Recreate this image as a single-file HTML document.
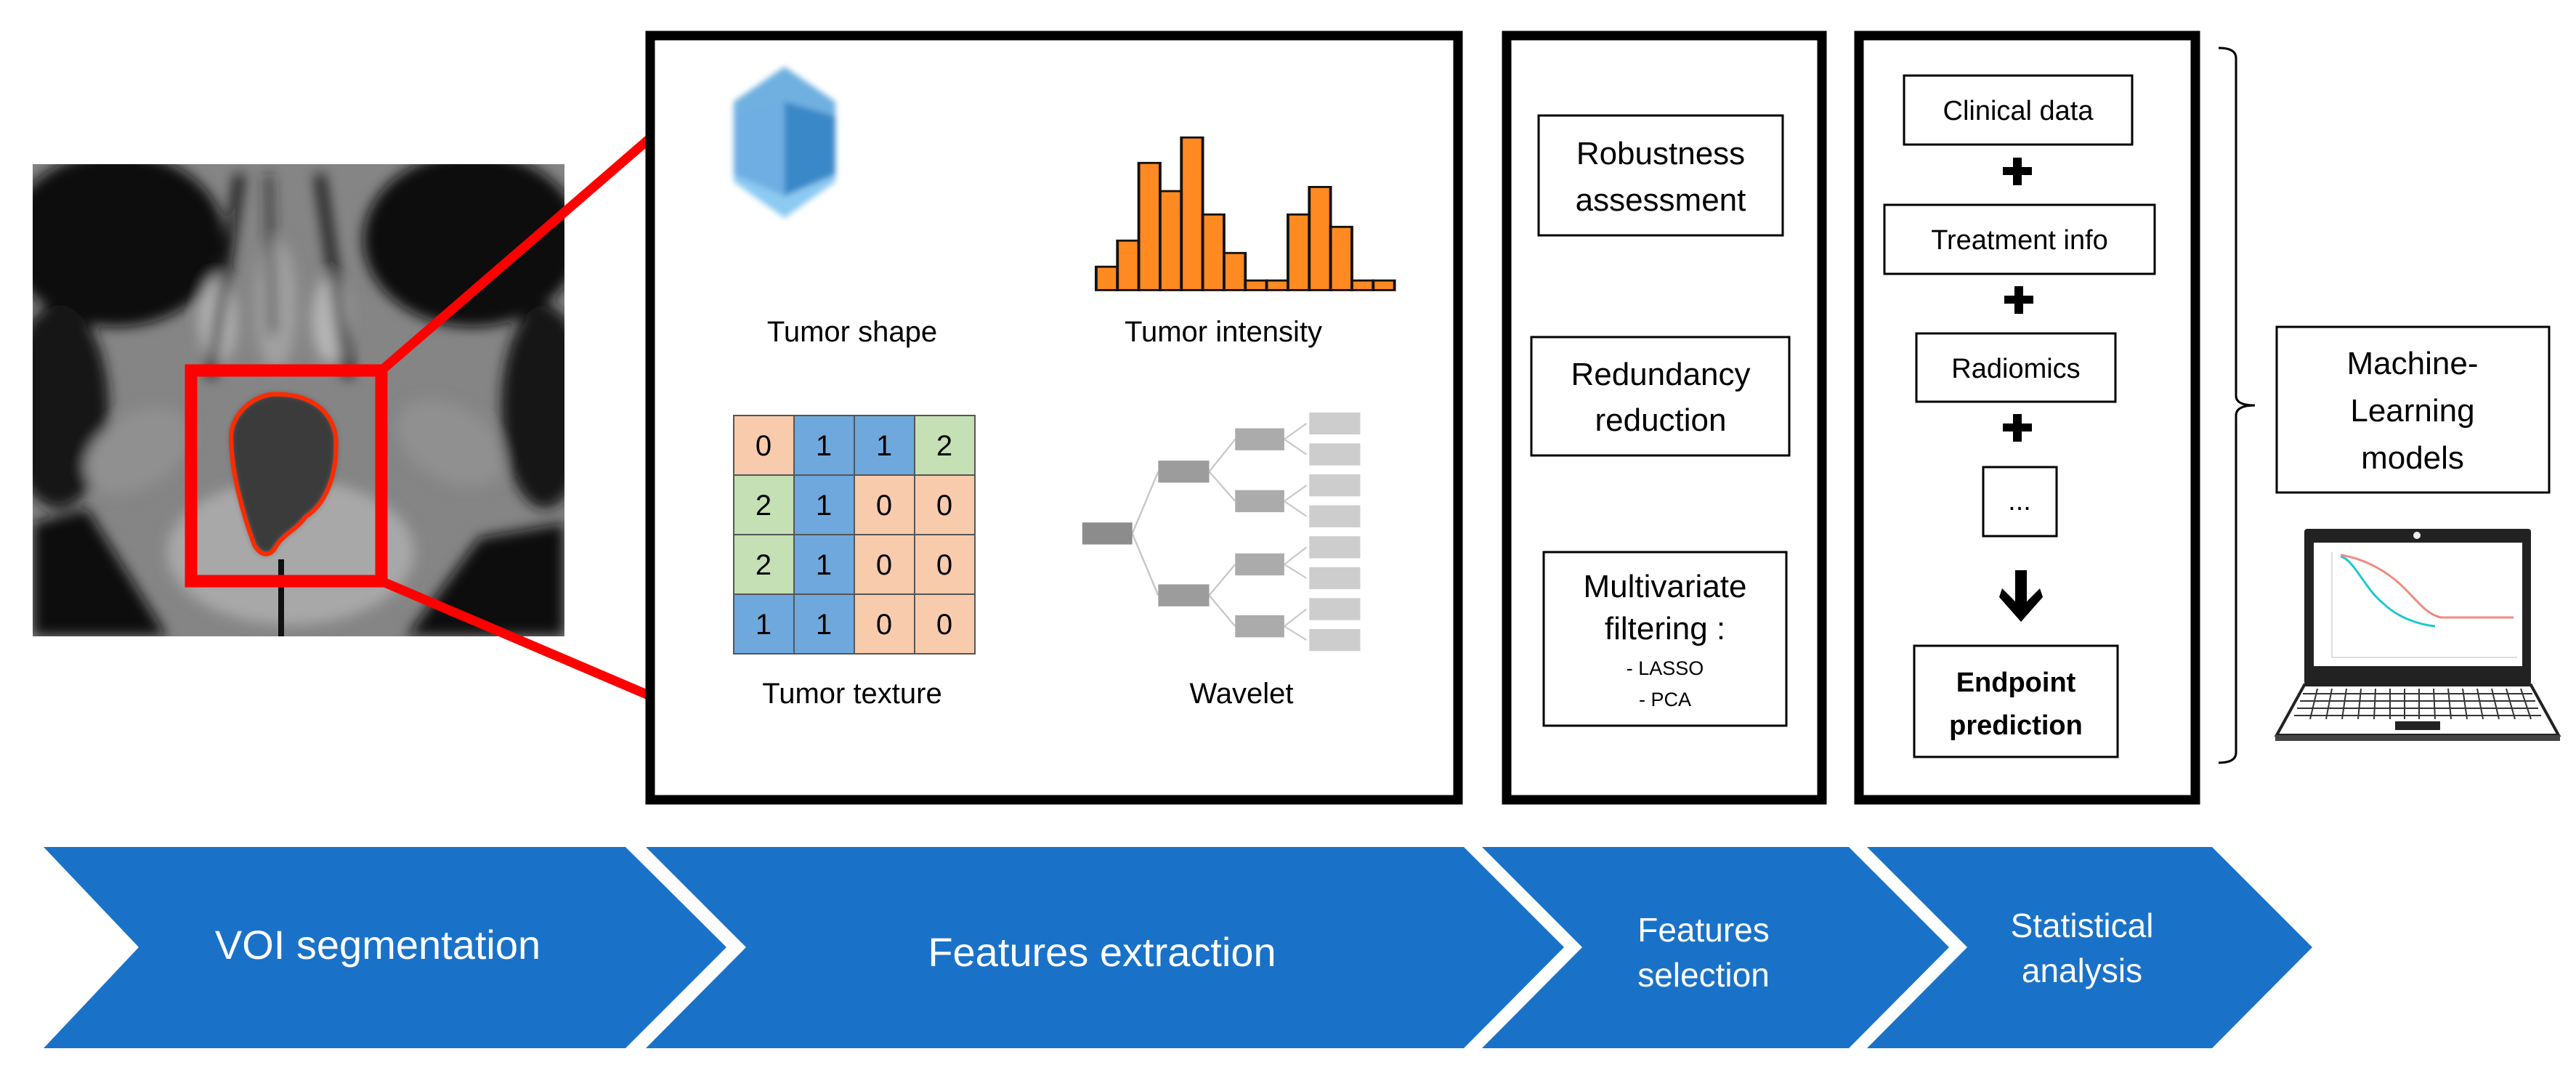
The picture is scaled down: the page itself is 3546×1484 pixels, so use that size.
<!DOCTYPE html>
<html><head><meta charset="utf-8"><style>
html,body{margin:0;padding:0;background:#fff;}
svg{display:block;}
text{font-family:"Liberation Sans",sans-serif;}
</style></head><body>
<svg width="3546" height="1484" viewBox="0 0 3546 1484" xmlns="http://www.w3.org/2000/svg">
<defs>
<filter id="bl" x="-20%" y="-20%" width="140%" height="140%"><feGaussianBlur stdDeviation="9"/></filter>
<filter id="bl2"><feGaussianBlur stdDeviation="4"/></filter>
<clipPath id="mri"><rect x="45" y="226" width="732" height="650"/></clipPath>
</defs>

<!-- MRI -->
<g clip-path="url(#mri)">
<rect x="45" y="226" width="732" height="650" fill="#858585"/>
<g filter="url(#bl)">
<ellipse cx="160" cy="330" rx="150" ry="120" fill="#0c0c0c"/>
<ellipse cx="650" cy="330" rx="150" ry="120" fill="#0c0c0c"/>
<ellipse cx="80" cy="560" rx="70" ry="140" fill="#151515"/>
<ellipse cx="750" cy="560" rx="60" ry="140" fill="#151515"/>
<polygon points="45,720 120,700 230,876 45,876" fill="#101010"/>
<polygon points="777,720 660,740 560,876 777,876" fill="#101010"/>
<ellipse cx="190" cy="620" rx="80" ry="50" fill="#909090" transform="rotate(-30 190 620)"/>
<ellipse cx="620" cy="610" rx="80" ry="50" fill="#909090" transform="rotate(30 620 610)"/>
<ellipse cx="300" cy="440" rx="25" ry="60" fill="#b5b5b5"/>
<ellipse cx="455" cy="440" rx="25" ry="60" fill="#b5b5b5"/>
<ellipse cx="380" cy="420" rx="28" ry="90" fill="#a0a0a0"/>
<ellipse cx="400" cy="760" rx="170" ry="100" fill="#a8a8a8"/>
<line x1="330" y1="240" x2="290" y2="520" stroke="#111" stroke-width="12"/>
<line x1="440" y1="240" x2="480" y2="520" stroke="#111" stroke-width="12"/>
<line x1="370" y1="240" x2="375" y2="460" stroke="#222" stroke-width="8"/>
</g>
<path d="M372,543 C345,548 320,570 318,600 C318,650 335,710 350,750 C358,765 372,768 380,752 C390,735 410,728 420,712 C455,690 465,640 462,600 C455,560 420,540 372,543 Z" fill="#3a3a3a" filter="url(#bl2)"/>
<rect x="383" y="770" width="8" height="106" fill="#111"/>
</g>
<path d="M372,543 C345,548 320,570 318,600 C318,650 335,710 350,750 C358,765 372,768 380,752 C390,735 410,728 420,712 C455,690 465,640 462,600 C455,560 420,540 372,543 Z" fill="none" stroke="#ff2a00" stroke-width="6"/>
<rect x="263" y="510" width="262" height="290" fill="none" stroke="#ff0000" stroke-width="17"/>
<line x1="525" y1="510" x2="895" y2="190" stroke="#ff0000" stroke-width="13"/>
<line x1="525" y1="800" x2="895" y2="958" stroke="#ff0000" stroke-width="13"/>

<!-- Boxes -->
<rect x="895" y="49" width="1112" height="1052" fill="#fff" stroke="#000" stroke-width="13"/>
<rect x="2074" y="49" width="434" height="1052" fill="none" stroke="#000" stroke-width="13"/>
<rect x="2559" y="49" width="463" height="1052" fill="none" stroke="#000" stroke-width="13"/>

<!-- Tumor shape gem -->
<g filter="url(#bl2)">
<polygon points="1080,92 1150,140 1150,250 1080,300 1010,250 1010,140" fill="#5aa0d8"/>
<polygon points="1080,92 1150,140 1150,160 1080,140 1010,160 1010,140" fill="#6fb0e0"/>
<polygon points="1010,160 1080,140 1080,270 1010,240" fill="#6eaee2"/>
<polygon points="1080,140 1150,160 1150,240 1080,270" fill="#3a88c8"/>
<polygon points="1010,240 1080,270 1150,240 1150,250 1080,300 1010,250" fill="#8ccaf2"/>
</g>
<text x="1173" y="470" font-size="40" text-anchor="middle">Tumor shape</text>

<!-- Histogram -->
<g transform="scale(1.2755,0.9464)" fill="#ff8a22" stroke="#111" stroke-width="3">
<rect x="1183" y="388" width="23" height="34"/>
<rect x="1206" y="350" width="23" height="72"/>
<rect x="1229" y="237" width="23" height="185"/>
<rect x="1252" y="278" width="23" height="144"/>
<rect x="1275" y="200" width="23" height="222"/>
<rect x="1298" y="312" width="23" height="110"/>
<rect x="1321" y="368" width="23" height="54"/>
<rect x="1344" y="408" width="23" height="14"/>
<rect x="1367" y="408" width="23" height="14"/>
<rect x="1390" y="312" width="23" height="110"/>
<rect x="1413" y="272" width="23" height="150"/>
<rect x="1436" y="330" width="23" height="92"/>
<rect x="1459" y="408" width="23" height="14"/>
<rect x="1482" y="408" width="23" height="14"/>
</g>
<text x="1684" y="470" font-size="40" text-anchor="middle">Tumor intensity</text>

<!-- Grid -->
<g stroke="#555" stroke-width="2">
<rect x="1010" y="572" width="83" height="82" fill="#f8cbad"/><rect x="1093" y="572" width="83" height="82" fill="#6fa8dc"/><rect x="1176" y="572" width="83" height="82" fill="#6fa8dc"/><rect x="1259" y="572" width="83" height="82" fill="#c5e0b4"/>
<rect x="1010" y="654" width="83" height="82" fill="#c5e0b4"/><rect x="1093" y="654" width="83" height="82" fill="#6fa8dc"/><rect x="1176" y="654" width="83" height="82" fill="#f8cbad"/><rect x="1259" y="654" width="83" height="82" fill="#f8cbad"/>
<rect x="1010" y="736" width="83" height="82" fill="#c5e0b4"/><rect x="1093" y="736" width="83" height="82" fill="#6fa8dc"/><rect x="1176" y="736" width="83" height="82" fill="#f8cbad"/><rect x="1259" y="736" width="83" height="82" fill="#f8cbad"/>
<rect x="1010" y="818" width="83" height="82" fill="#6fa8dc"/><rect x="1093" y="818" width="83" height="82" fill="#6fa8dc"/><rect x="1176" y="818" width="83" height="82" fill="#f8cbad"/><rect x="1259" y="818" width="83" height="82" fill="#f8cbad"/>
</g>
<g font-size="40" text-anchor="middle" fill="#000">
<text x="1051" y="627">0</text><text x="1134" y="627">1</text><text x="1217" y="627">1</text><text x="1300" y="627">2</text>
<text x="1051" y="709">2</text><text x="1134" y="709">1</text><text x="1217" y="709">0</text><text x="1300" y="709">0</text>
<text x="1051" y="791">2</text><text x="1134" y="791">1</text><text x="1217" y="791">0</text><text x="1300" y="791">0</text>
<text x="1051" y="873">1</text><text x="1134" y="873">1</text><text x="1217" y="873">0</text><text x="1300" y="873">0</text>
</g>
<text x="1173" y="968" font-size="40" text-anchor="middle">Tumor texture</text>

<!-- Wavelet -->
<g transform="scale(1.2755,0.9464)">
<g stroke="#c8c8c8" stroke-width="2" fill="none">
<path d="M1222,776 L1250,686 M1222,776 L1250,866"/>
<path d="M1305,686 L1333,639 M1305,686 L1333,729 M1305,866 L1333,821 M1305,866 L1333,911"/>
<path d="M1410,616 L1386,639 L1410,661 M1410,706 L1386,729 L1410,751 M1410,796 L1386,821 L1410,841 M1410,886 L1386,911 L1410,931"/>
</g>
<rect x="1168" y="760" width="54" height="32" fill="#8c8c8c"/>
<rect x="1250" y="670" width="55" height="32" fill="#9c9c9c"/><rect x="1250" y="850" width="55" height="32" fill="#9c9c9c"/>
<g fill="#ababab"><rect x="1333" y="623" width="53" height="32"/><rect x="1333" y="713" width="53" height="32"/><rect x="1333" y="805" width="53" height="32"/><rect x="1333" y="895" width="53" height="32"/></g>
<g fill="#cdcdcd"><rect x="1413" y="600" width="55" height="32"/><rect x="1413" y="645" width="55" height="32"/><rect x="1413" y="690" width="55" height="32"/><rect x="1413" y="735" width="55" height="32"/><rect x="1413" y="780" width="55" height="32"/><rect x="1413" y="825" width="55" height="32"/><rect x="1413" y="870" width="55" height="32"/><rect x="1413" y="915" width="55" height="32"/></g>
</g>
<text x="1709" y="968" font-size="40" text-anchor="middle">Wavelet</text>

<!-- Feature selection boxes -->
<g fill="none" stroke="#000" stroke-width="3">
<rect x="2118" y="159" width="336" height="165"/>
<rect x="2108" y="464" width="355" height="163"/>
<rect x="2125" y="760" width="334" height="239"/>
<rect x="2621" y="104" width="314" height="95"/>
<rect x="2594" y="282" width="372" height="95"/>
<rect x="2638" y="459" width="274" height="94"/>
<rect x="2730" y="643" width="101" height="95"/>
<rect x="2635" y="889" width="280" height="153"/>
<rect x="3134" y="450" width="375" height="228"/>
</g>
<g font-size="44" text-anchor="middle">
<text x="2286" y="226">Robustness</text><text x="2286" y="290">assessment</text>
<text x="2286" y="530">Redundancy</text><text x="2286" y="593">reduction</text>
<text x="2292" y="822">Multivariate</text><text x="2292" y="880">filtering :</text>
</g>
<text x="2292" y="929" font-size="27" text-anchor="middle">- LASSO</text>
<text x="2292" y="972" font-size="27" text-anchor="middle">- PCA</text>

<g font-size="38" text-anchor="middle">
<text x="2778" y="165">Clinical data</text>
<text x="2780" y="343">Treatment info</text>
<text x="2775" y="520">Radiomics</text>
<text x="2780" y="702">...</text>
</g>
<g font-size="38" font-weight="bold" text-anchor="middle">
<text x="2775" y="952">Endpoint</text><text x="2775" y="1011">prediction</text>
</g>
<g fill="#000">
<rect x="2757" y="230" width="40" height="11"/><rect x="2771" y="217" width="12" height="38"/>
<rect x="2759" y="407" width="40" height="11"/><rect x="2773" y="394" width="12" height="38"/>
<rect x="2757" y="583" width="40" height="11"/><rect x="2771" y="570" width="12" height="38"/>
</g>
<path d="M2774,785 L2790,785 L2790,828 L2808,810 L2812,822 L2782,856 L2752,822 L2756,810 L2774,828 Z" fill="#000"/>

<!-- Bracket -->
<path d="M3054,66 Q3078,66 3078,80 L3078,545 Q3078,558 3104,558 Q3078,558 3078,572 L3078,1036 Q3078,1050 3054,1050" fill="none" stroke="#000" stroke-width="3"/>

<g font-size="44" text-anchor="middle">
<text x="3321" y="515">Machine-</text><text x="3321" y="580">Learning</text><text x="3321" y="645">models</text>
</g>

<!-- Laptop -->
<rect x="3172" y="728" width="312" height="215" rx="4" fill="#222"/>
<rect x="3185" y="747" width="287" height="170" fill="#fff"/>
<circle cx="3327" cy="737" r="5" fill="#eee"/>
<path d="M3222,766 C3240,770 3255,810 3280,830 C3300,850 3330,860 3352,862" fill="none" stroke="#1fc8d0" stroke-width="3"/>
<path d="M3222,764 C3260,770 3290,790 3310,810 C3330,830 3340,845 3360,850 L3460,850" fill="none" stroke="#f08a80" stroke-width="3"/>
<line x1="3210" y1="760" x2="3210" y2="905" stroke="#bbb" stroke-width="1"/>
<line x1="3210" y1="905" x2="3465" y2="905" stroke="#bbb" stroke-width="1"/>
<polygon points="3172,943 3484,943 3522,1012 3134,1012" fill="#fff" stroke="#222" stroke-width="4"/>
<g stroke="#333" stroke-width="2">
<path d="M3170,955 L3486,955 M3166,965 L3490,965 M3162,975 L3494,975 M3158,985 L3498,985"/>
<path d="M3190,948 L3180,990 M3210,948 L3202,990 M3230,948 L3224,990 M3250,948 L3246,990 M3270,948 L3268,990 M3290,948 L3290,990 M3310,948 L3310,990 M3330,948 L3330,990 M3350,948 L3352,990 M3370,948 L3374,990 M3390,948 L3396,990 M3410,948 L3418,990 M3430,948 L3440,990 M3450,948 L3462,990 M3470,948 L3484,990"/>
</g>
<rect x="3297" y="993" width="62" height="12" fill="#222"/>
<rect x="3132" y="1012" width="392" height="8" fill="#444"/>

<!-- Chevrons -->
<g fill="#1a72c8">
<polygon points="60,1166 861,1166 1000,1304 861,1443 60,1443 191,1304"/>
<polygon points="889,1166 2015,1166 2153,1304 2015,1443 889,1443 1027,1304"/>
<polygon points="2040,1166 2545,1166 2683,1304 2545,1443 2040,1443 2178,1304"/>
<polygon points="2570,1166 3045,1166 3183,1304 3045,1443 2570,1443 2708,1304"/>
</g>
<g fill="#fff" text-anchor="middle">
<text x="520" y="1320" font-size="56">VOI segmentation</text>
<text x="1517" y="1330" font-size="56">Features extraction</text>
<text x="2345" y="1296" font-size="46">Features</text>
<text x="2345" y="1358" font-size="46">selection</text>
<text x="2866" y="1290" font-size="46">Statistical</text>
<text x="2866" y="1352" font-size="46">analysis</text>
</g>
</svg>
</body></html>
